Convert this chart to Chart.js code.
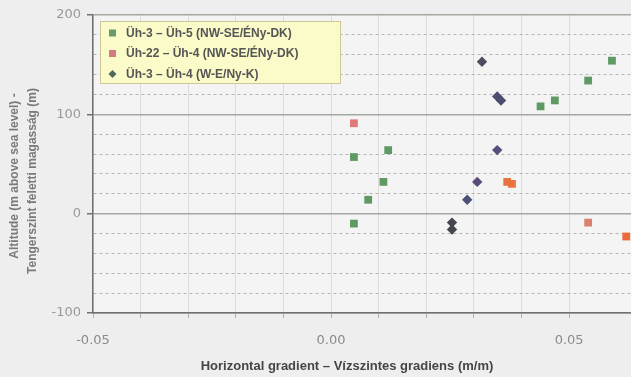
<!DOCTYPE html>
<html>
<head>
<meta charset="utf-8">
<script src="https://cdn.jsdelivr.net/npm/chart.js@4.4.1/dist/chart.umd.min.js"></script>
<style>
  html, body { margin: 0; padding: 0; background: #eeeeee; }
  #wrap { width: 631px; height: 377px; }
</style>
</head>
<body>
<div id="wrap"><canvas id="chart" width="631" height="377"></canvas></div>
<script>
// Series labels
const seriesLabels = [
  "Üh-3 – Üh-5 (NW-SE/ÉNy-DK)",
  "Üh-22 – Üh-4 (NW-SE/ÉNy-DK)",
  "Üh-3 – Üh-4 (W-E/Ny-K)",
];

// Üh-3 – Üh-5 : gradient (m/m) / altitude (m)
const g35X = [0.0048, 0.0048, 0.0078, 0.011, 0.012, 0.044, 0.047, 0.054, 0.059];
const g35Y = [-10, 57, 14, 32, 64, 108, 114, 134, 154];

// Üh-22 – Üh-4
const g224X = [0.0048, 0.037, 0.038, 0.054, 0.062];
const g224Y = [91, 32, 30, -9, -23];

// Üh-3 – Üh-4
const g34X = [0.0317, 0.0349, 0.0357, 0.0349, 0.0307, 0.0286, 0.0254, 0.0254];
const g34Y = [153, 118, 114, 64, 32, 14, -9, -16];

const xLabelTicks = [-0.05, 0, 0.05];
const yLabelTicks = [-100, 0, 100, 200];

const xTitle = "Horizontal gradient – Vízszintes gradiens (m/m)";
const yTitle = ["Altitude (m above sea level) -", "Tengerszint feletti magasság (m)"];

const toPoints = (xs, ys) => xs.map((x, i) => ({ x: x, y: ys[i] }));

const redShades = ["#e07a78", "#e8733e", "#e8733e", "#d9806e", "#ea6a3a"];
const diamondShades = ["#4c4c5e", "#4e4c70", "#4e4c70", "#56507a", "#5a4a7a", "#4e5078", "#45474f", "#45474f"];

// page + plot background
const backdrop = {
  id: "backdrop",
  beforeDraw(chart) {
    const { ctx, chartArea: a } = chart;
    ctx.save();
    ctx.fillStyle = "#eeeeee";
    ctx.fillRect(0, 0, chart.width, chart.height);
    ctx.fillStyle = "#f4f4f4";
    ctx.fillRect(a.left, a.top, a.right - a.left, a.bottom - a.top);
    ctx.restore();
  },
};

// axis titles, placed where the scanned figure has them
const axisTitles = {
  id: "axisTitles",
  afterDraw(chart) {
    const ctx = chart.ctx;
    ctx.save();
    ctx.textAlign = "center";
    ctx.textBaseline = "middle";
    ctx.font = "bold 13px 'Liberation Sans', Arial, sans-serif";
    ctx.fillStyle = "#454545";
    ctx.fillText(xTitle, 347, 366);
    ctx.font = "bold 12px 'Liberation Sans', Arial, sans-serif";
    ctx.fillStyle = "#7a7a7a";
    [[15, 176], [33, 181]].forEach(([x, y], i) => {
      ctx.save();
      ctx.translate(x, y);
      ctx.rotate(-Math.PI / 2);
      ctx.fillText(yTitle[i], 0, 0);
      ctx.restore();
    });
    ctx.restore();
  },
};

// legend box sitting inside the plot, top left
const boxLegend = {
  id: "boxLegend",
  afterDraw(chart) {
    const ctx = chart.ctx;
    const x = 100, y = 21, w = 240, h = 62;
    ctx.save();
    ctx.fillStyle = "#fbfbc9";
    ctx.strokeStyle = "#cfc79a";
    ctx.lineWidth = 1;
    ctx.fillRect(x, y, w, h);
    ctx.strokeRect(x + 0.5, y + 0.5, w, h);
    const markColors = ["#6a9a6a", "#d57a82", "#4c6a5a"];
    ctx.font = "bold 12px 'Liberation Sans', Arial, sans-serif";
    ctx.textBaseline = "middle";
    chart.data.datasets.forEach((ds, i) => {
      const cy = y + 12 + i * 20.5;
      ctx.fillStyle = markColors[i];
      if (i < 2) {
        ctx.fillRect(x + 9, cy - 3.5, 7, 7);
      } else {
        ctx.beginPath();
        ctx.moveTo(x + 12.5, cy - 4);
        ctx.lineTo(x + 16.5, cy);
        ctx.lineTo(x + 12.5, cy + 4);
        ctx.lineTo(x + 8.5, cy);
        ctx.closePath();
        ctx.fill();
      }
      ctx.fillStyle = "#555555";
      ctx.fillText(ds.label, x + 26, cy + 0.5);
    });
    ctx.restore();
  },
};

new Chart(document.getElementById("chart"), {
  type: "scatter",
  data: {
    datasets: [
      {
        label: seriesLabels[0],
        data: toPoints(g35X, g35Y),
        pointStyle: "rect",
        pointRadius: 5.5,
        pointHoverRadius: 5.5,
        backgroundColor: "#5f9a64",
        borderWidth: 0,
      },
      {
        label: seriesLabels[1],
        data: toPoints(g224X, g224Y),
        pointStyle: "rect",
        pointRadius: 5.5,
        pointHoverRadius: 5.5,
        backgroundColor: redShades,
        borderWidth: 0,
      },
      {
        label: seriesLabels[2],
        data: toPoints(g34X, g34Y),
        pointStyle: "rectRot",
        pointRadius: 5.2,
        pointHoverRadius: 5.2,
        backgroundColor: diamondShades,
        borderWidth: 0,
      },
    ],
  },
  options: {
    responsive: false,
    animation: false,
    layout: { autoPadding: false, padding: { top: 15, right: 0, left: 0, bottom: 0 } },
    plugins: {
      legend: { display: false },
      tooltip: { enabled: false },
    },
    scales: {
      x: {
        type: "linear",
        min: -0.05,
        max: 0.063,
        afterFit: (s) => {
          s.height = 64;
          s.paddingLeft = 0;
          s.paddingRight = 0;
        },
        ticks: {
          stepSize: 0.01,
          padding: 15,
          maxRotation: 0,
          autoSkip: false,
          color: "#8a8a8a",
          font: { family: "'DejaVu Sans', sans-serif", size: 13 },
          callback: (v) => {
            const hit = xLabelTicks.find((t) => Math.abs(t - v) < 1e-9);
            return hit === undefined ? "" : hit.toFixed(2);
          },
        },
        grid: {
          color: "#dcdcdc",
          lineWidth: 1,
          tickLength: 5,
          tickColor: "#b0b0b0",
        },
        border: { color: "#707070", width: 1.5 },
      },
      y: {
        type: "linear",
        min: -100,
        max: 200,
        afterFit: (s) => { s.width = 93; },
        ticks: {
          stepSize: 20,
          padding: 6,
          color: "#999999",
          font: { family: "'DejaVu Sans', sans-serif", size: 13 },
          callback: (v) => (yLabelTicks.includes(v) ? String(v) : ""),
        },
        grid: {
          color: (c) => (c.tick && c.tick.value % 100 === 0 ? "#a3a8a0" : "#b4b4b4"),
          lineWidth: (c) => (c.tick && c.tick.value % 100 === 0 ? 1.5 : 1),
          tickLength: 6,
          tickColor: (c) => (c.tick && c.tick.value % 100 === 0 ? "#707070" : "rgba(0,0,0,0)"),
        },
        border: {
          color: "#707070",
          width: 1.5,
          dash: (c) => (c.tick && c.tick.value % 100 === 0 ? [] : [3, 3]),
        },
      },
    },
  },
  plugins: [backdrop, axisTitles, boxLegend],
});
</script>
</body>
</html>
